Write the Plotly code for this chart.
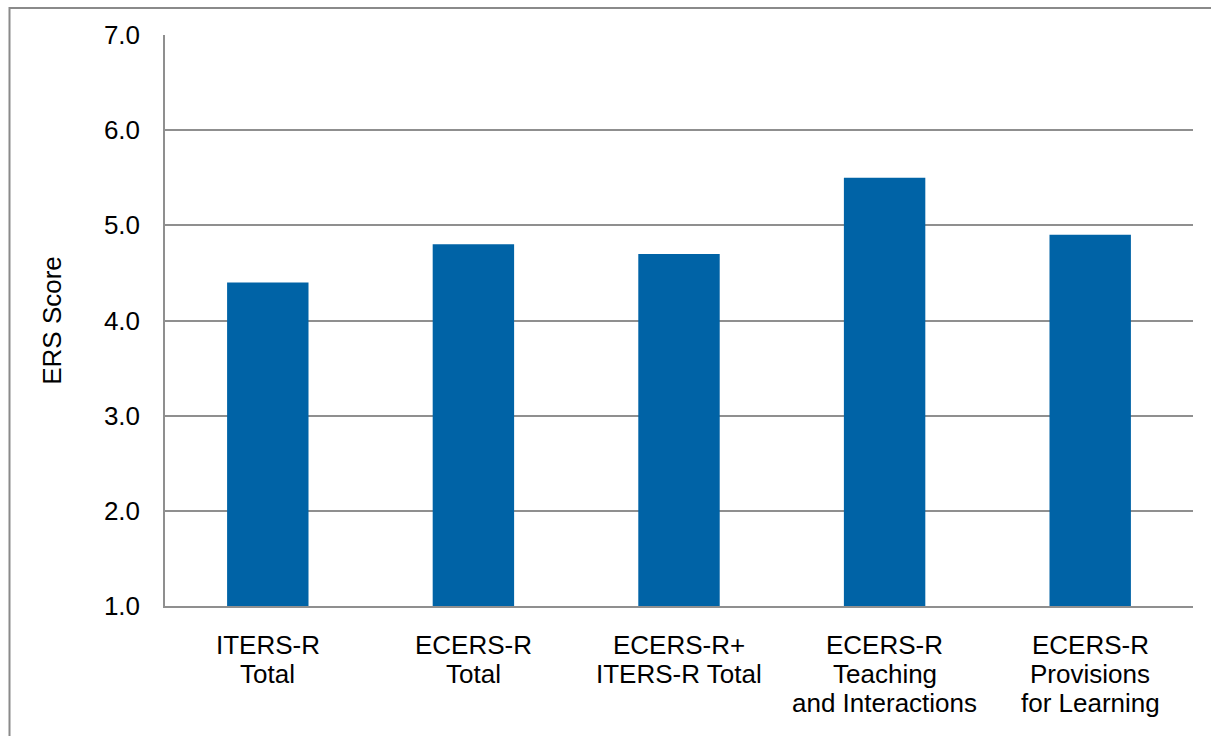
import plotly.graph_objects as go

# ERS mean scores by scale
categories = [
    "ITERS-R<br>Total",
    "ECERS-R<br>Total",
    "ECERS-R+<br>ITERS-R Total",
    "ECERS-R<br>Teaching<br>and Interactions",
    "ECERS-R<br>Provisions<br>for Learning",
]
scores = [4.4, 4.8, 4.7, 5.5, 4.9]
y_ticks = [1, 2, 3, 4, 5, 6, 7]

BAR_COLOR = "#0063a6"
GRID_COLOR = "#8f8f8f"
FONT = "Liberation Sans, Arial, sans-serif"
LABEL_SIZE = 26
LINE_STEP = 29  # spacing between lines of a category label, px

fig = go.Figure(
    go.Bar(
        x=categories,
        y=scores,
        marker=dict(color=BAR_COLOR, line=dict(width=0)),
        width=0.396,
    )
)

W, H = 1211, 736
L, R, T, B = 165, 18, 35, 130
pw, ph = W - L - R, H - T - B

fig.update_layout(
    width=W,
    height=H,
    margin=dict(l=L, r=R, t=T, b=B, pad=0),
    paper_bgcolor="white",
    plot_bgcolor="white",
    font=dict(family=FONT, size=LABEL_SIZE, color="black"),
    showlegend=False,
    bargap=0.6,
)

fig.update_xaxes(
    showgrid=False,
    showline=True,
    linecolor=GRID_COLOR,
    linewidth=1.5,
    showticklabels=False,
    ticks="",
)

fig.update_yaxes(
    range=[1, 7],
    tickvals=y_ticks,
    tickformat=".1f",
    showgrid=True,
    gridcolor=GRID_COLOR,
    gridwidth=1.5,
    showline=True,
    linecolor=GRID_COLOR,
    linewidth=1.5,
    zeroline=False,
    ticks="outside",
    ticklen=18,
    tickcolor="rgba(0,0,0,0)",
    tickfont=dict(size=LABEL_SIZE),
    title=dict(text="ERS Score", font=dict(size=LABEL_SIZE), standoff=35),
)

# Category labels, one line per annotation for tight line spacing
for cat in categories:
    for i, line in enumerate(cat.split("<br>")):
        fig.add_annotation(
            x=cat,
            y=0,
            xref="x",
            yref="paper",
            text=line,
            showarrow=False,
            xanchor="center",
            yanchor="middle",
            yshift=-(39 + LINE_STEP * i),
            font=dict(size=LABEL_SIZE, color="black"),
        )

# Outer frame around the chart
fig.add_shape(
    type="rect",
    xref="paper",
    yref="paper",
    x0=(9.5 - L) / pw,
    x1=1.1,
    y0=-0.4,
    y1=1 + (T - 8) / ph,
    line=dict(color="#8a8a8a", width=2),
    fillcolor="rgba(0,0,0,0)",
    layer="above",
)

fig.write_html("out.html")
